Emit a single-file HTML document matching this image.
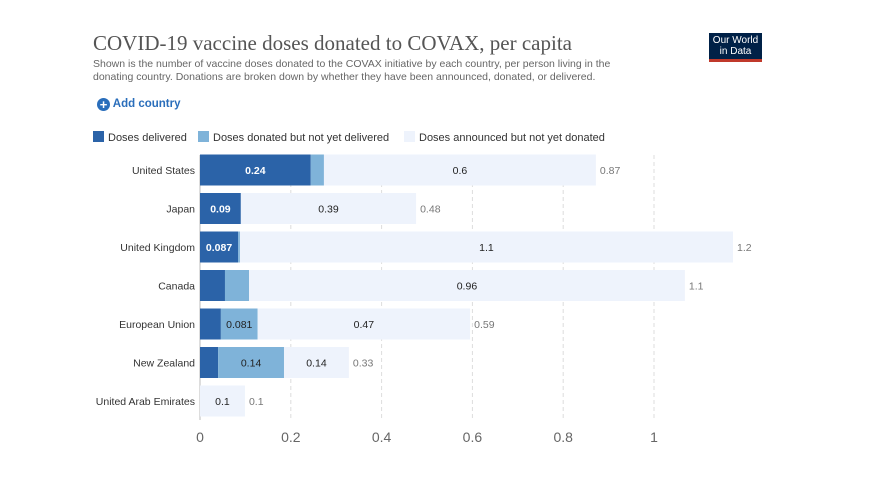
<!DOCTYPE html>
<html><head><meta charset="utf-8">
<style>
body{margin:0;background:#fff;font-family:"Liberation Sans",sans-serif;}
#wrap{position:relative;width:869px;height:489px;overflow:hidden;}
.t{position:absolute;white-space:nowrap;}
</style></head><body>
<div id="wrap">
<div class="t" style="left:93px;top:31px;font-family:'Liberation Serif',serif;font-size:21px;color:#555;">COVID-19 vaccine doses donated to COVAX, per capita</div>
<div class="t" style="left:93px;top:58px;font-size:10.5px;color:#666;line-height:12.5px;">Shown is the number of vaccine doses donated to the COVAX initiative by each country, per person living in the<br>donating country. Donations are broken down by whether they have been announced, donated, or delivered.</div>
<div style="position:absolute;left:709px;top:33px;width:53px;height:29px;background:#002147;border-bottom:3px solid #c0392b;color:#fff;font-size:10px;text-align:center;line-height:11px;padding-top:2px;box-sizing:border-box;">Our World<br>in Data</div>
<div class="t" style="left:97px;top:98px;font-size:11.5px;color:#2a6ebb;font-weight:bold;"><span style="display:inline-block;width:13px;height:13px;border-radius:50%;background:#2a6ebb;color:#fff;text-align:center;line-height:13px;font-size:13px;vertical-align:-2px;">+</span> Add country</div>
<svg id="svg" width="869" height="489" style="position:absolute;left:0;top:0;"></svg>
</div>
<script>
const countries=["United States","Japan","United Kingdom","Canada","European Union","New Zealand","United Arab Emirates"];
const delivered=[0.244,0.09,0.084,0.055,0.046,0.04,0];
const donated=[0.029,0,0.004,0.053,0.081,0.145,0];
const announced=[0.599,0.386,1.086,0.96,0.468,0.143,0.099];
const deliveredLabels=["0.24","0.09","0.087","","","",""];
const donatedLabels=["","","","","0.081","0.14",""];
const announcedLabels=["0.6","0.39","1.1","0.96","0.47","0.14","0.1"];
const totalLabels=["0.87","0.48","1.2","1.1","0.59","0.33","0.1"];
const ticks=[0,0.2,0.4,0.6,0.8,1];
const tickLabels=["0","0.2","0.4","0.6","0.8","1"];
const colors=["#2b63a8","#7fb3d9","#eef3fc"];
const legend=["Doses delivered","Doses donated but not yet delivered","Doses announced but not yet donated"];
const svg=document.getElementById('svg');const NS="http://www.w3.org/2000/svg";
const x0=200,k=454,y0=170,step=38.5,bh=31;
const X=v=>x0+v*k, Y=i=>y0+i*step;
function mk(t,a,p){const e=document.createElementNS(NS,t);for(const q in a)e.setAttribute(q,a[q]);(p||svg).appendChild(e);return e;}
// legend
let lx=93;
legend.forEach((l,i)=>{
 const r=mk('rect',{x:lx,y:131,width:11,height:11,fill:colors[i]});
 
 
 const t=mk('text',{x:lx+15,y:141,'font-size':11,fill:'#333'});t.textContent=l;
 
 
 lx+=[105,206,0][i];
});
// grid
ticks.forEach((v,i)=>{
 if(v>0){const g=mk('line',{x1:X(v),x2:X(v),y1:155,y2:420,stroke:'#ddd','stroke-dasharray':'4,3'});
 
 }
 const t=mk('text',{x:X(v),y:442,'font-size':14,fill:'#666','text-anchor':'middle'});t.textContent=tickLabels[i];
 
 
});
mk('line',{x1:200,x2:200,y1:155,y2:420,stroke:'#bbb'});
countries.forEach((c,i)=>{
 const yc=Y(i);
 const t=mk('text',{x:195,y:yc+4,'font-size':10.5,fill:'#333','text-anchor':'end'});t.textContent=c;
 
 
 const segs=[delivered[i],donated[i],announced[i]];const labs=[deliveredLabels[i],donatedLabels[i],announcedLabels[i]];
 let s=0;
 segs.forEach((v,j)=>{
  const r=mk('rect',{x:X(s),y:yc-bh/2,width:Math.max(0,v*k),height:bh,fill:colors[j]});
  
  
  if(labs[j]){const tt=mk('text',{x:X(s+v/2),y:yc+4,'font-size':10.5,fill:j==0?'#fff':'#222','text-anchor':'middle','font-weight':j==0?'bold':'normal'});tt.textContent=labs[j];
   
   }
  s+=v;
 });
 const tl=mk('text',{x:X(s)+4,y:yc+4,'font-size':10.5,fill:'#777'});tl.textContent=totalLabels[i];
 
 
});
</script>
</body></html>
